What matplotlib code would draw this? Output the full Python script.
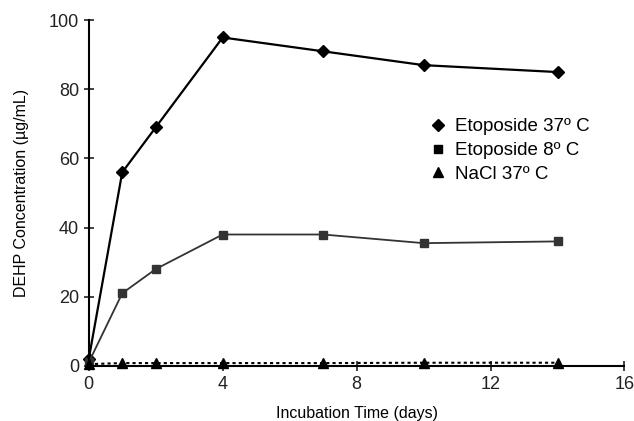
import matplotlib
matplotlib.use("Agg")
import matplotlib.pyplot as plt
from matplotlib.lines import Line2D

plt.rcParams["font.family"] = ["Liberation Sans", "DejaVu Sans"]

# Data
days = [0, 1, 2, 4, 7, 10, 14]
etop_37 = [2, 56, 69, 95, 91, 87, 85]
etop_8 = [1, 21, 28, 38, 38, 35.5, 36]
nacl_37 = [0.5, 0.8, 0.8, 0.8, 0.8, 0.9, 0.9]
labels = ["Etoposide 37º C", "Etoposide 8º C", "NaCl 37º C"]

fig = plt.figure(figsize=(6.34, 4.21), dpi=100)
ax = fig.add_axes([0.140, 0.131, 0.845, 0.821])

ax.plot(days, etop_37, color="black", linewidth=1.6, marker="D", markersize=6, clip_on=False)
ax.plot(days, etop_8, color="#333333", linewidth=1.3, marker="s", markersize=6, clip_on=False)
ax.plot(days, nacl_37, color="black", linewidth=1.5, linestyle=(0, (1.5, 1.5)), marker="^",
        markersize=7, clip_on=False)

ax.set_xlim(0, 16)
ax.set_ylim(0, 100)
ax.set_xticks([0, 4, 8, 12, 16])
ax.set_yticks([0, 20, 40, 60, 80, 100])
ax.spines["top"].set_visible(False)
ax.spines["right"].set_visible(False)
ax.spines["left"].set_linewidth(1.5)
ax.spines["bottom"].set_linewidth(1.5)
ax.tick_params(direction="inout", length=7, width=1.2, labelsize=13, colors="#222222")

ax.set_xlabel("Incubation Time (days)", fontsize=11.5, labelpad=10)
ax.set_ylabel("DEHP Concentration (µg/mL)", fontsize=11.5, labelpad=14)

handles = [Line2D([], [], color="black", marker=m, linestyle="none", markersize=ms)
           for m, ms in [("D", 6), ("s", 6), ("^", 7)]]
ax.legend(handles, labels, loc="upper left", bbox_to_anchor=(0.6, 0.765), frameon=False,
          fontsize=13.5, handletextpad=0.3, labelspacing=0.35, handlelength=1.2)

fig.savefig("out.png", dpi=100)
